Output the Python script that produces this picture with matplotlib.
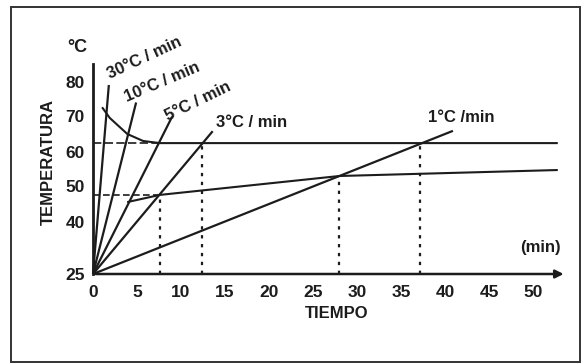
import matplotlib
matplotlib.use("Agg")
import matplotlib.pyplot as plt
from matplotlib.patches import Rectangle

plt.rcParams['font.family'] = ['Liberation Sans Narrow', 'Liberation Sans', 'DejaVu Sans']
plt.rcParams['font.weight'] = 'bold'

INK = '#1c1c1c'

# heating rates (°C/min) and where each line stops (min)
rates = [30, 10, 5, 3, 1]
rate_end = [1.8, 4.9, 9.0, 13.6, 40.9]
rate_labels = ['30°C / min', '10°C / min', '5°C / min', '3°C / min', '1°C /min']
label_t = [5.8, 7.9, 11.9, 18.0, 41.9]
label_T = [86.7, 79.9, 74.4, 68.4, 69.6]
label_rot = [25, 23, 26, 0, 0]

# upper transformation curve
upper_t = [1.1, 1.9, 3.9, 5.7, 7.6, 52.7]
upper_T = [72.4, 69.6, 65.0, 63.0, 62.4, 62.4]

# lower transformation curve
lower_t = [4.0, 7.6, 28.0, 52.7]
lower_T = [45.6, 47.6, 53.0, 54.7]

# dotted drop lines (time, temperature)
drop_t = [7.6, 12.4, 28.0, 37.2]
drop_T = [47.6, 62.4, 53.0, 62.4]

x_ticks = [0, 5, 10, 15, 20, 25, 30, 35, 40, 45, 50]
y_ticks = [25, 40, 50, 60, 70, 80]

fig = plt.figure(figsize=(5.82, 3.64), dpi=100)
fig.patch.set_facecolor('white')

# frame around the whole figure
fig.patches.append(Rectangle((11 / 582, 2 / 364), 569 / 582, 355 / 364,
                             transform=fig.transFigure, fill=False,
                             edgecolor='#333333', linewidth=1.4))

ax = fig.add_axes([93 / 582, 90 / 364, 55 * 8.8 / 582, 65 * 3.5 / 364])
ax.set_xlim(0, 55)
ax.set_ylim(25, 90)
ax.patch.set_alpha(0)
for s in ax.spines.values():
    s.set_visible(False)

# axes
ax.plot([0, 0], [25, 85], color=INK, lw=2.0, clip_on=False)
ax.annotate('', xy=(53.8, 25), xytext=(0, 25),
            arrowprops=dict(arrowstyle='-|>', color=INK, lw=1.8,
                            mutation_scale=12), annotation_clip=False)

# heating lines
for r, te in zip(rates, rate_end):
    ax.plot([0, te], [25, 25 + r * te], color=INK, lw=1.6,
            solid_capstyle='butt', clip_on=False)

# curves
ax.plot(upper_t, upper_T, color=INK, lw=1.5)
ax.plot([0, upper_t[-2]], [upper_T[-1], upper_T[-1]], color=INK, lw=1.2,
        ls=(0, (5, 2)))
ax.plot(lower_t, lower_T, color=INK, lw=1.5)
ax.plot([0, lower_t[1]], [lower_T[1], lower_T[1]], color=INK, lw=1.2,
        ls=(0, (4, 2)))

for t, T in zip(drop_t, drop_T):
    ax.plot([t, t], [25, T], color=INK, lw=1.6, ls=(0, (1.5, 2.5)))

for txt, t, T, rot in zip(rate_labels, label_t, label_T, label_rot):
    ax.text(t, T, txt, ha='center', va='center', rotation=rot,
            rotation_mode='anchor', fontsize=12, color=INK, fontweight='bold')

ax.set_xticks(x_ticks)
ax.set_yticks(y_ticks)
ax.tick_params(length=0, labelsize=12.5, colors=INK)
ax.tick_params(axis='x', pad=8)
ax.tick_params(axis='y', pad=6)
for lab in ax.get_xticklabels() + ax.get_yticklabels():
    lab.set_fontweight('bold')

ax.text(-1.8, 89.6, '°C', ha='center', va='center', fontsize=13,
        color=INK, fontweight='bold', clip_on=False)
ax.text(50.8, 32.7, '(min)', ha='center', va='center', fontsize=12,
        color=INK, fontweight='bold')

fig.text(337 / 582, 1 - 313 / 364, 'TIEMPO', ha='center', va='center',
         fontsize=12, color=INK, fontweight='bold')
fig.text(48 / 582, 1 - 162 / 364, 'TEMPERATURA', ha='center', va='center',
         rotation=90, fontsize=12, color=INK, fontweight='bold')

fig.savefig('out.png', dpi=100, facecolor='white')
